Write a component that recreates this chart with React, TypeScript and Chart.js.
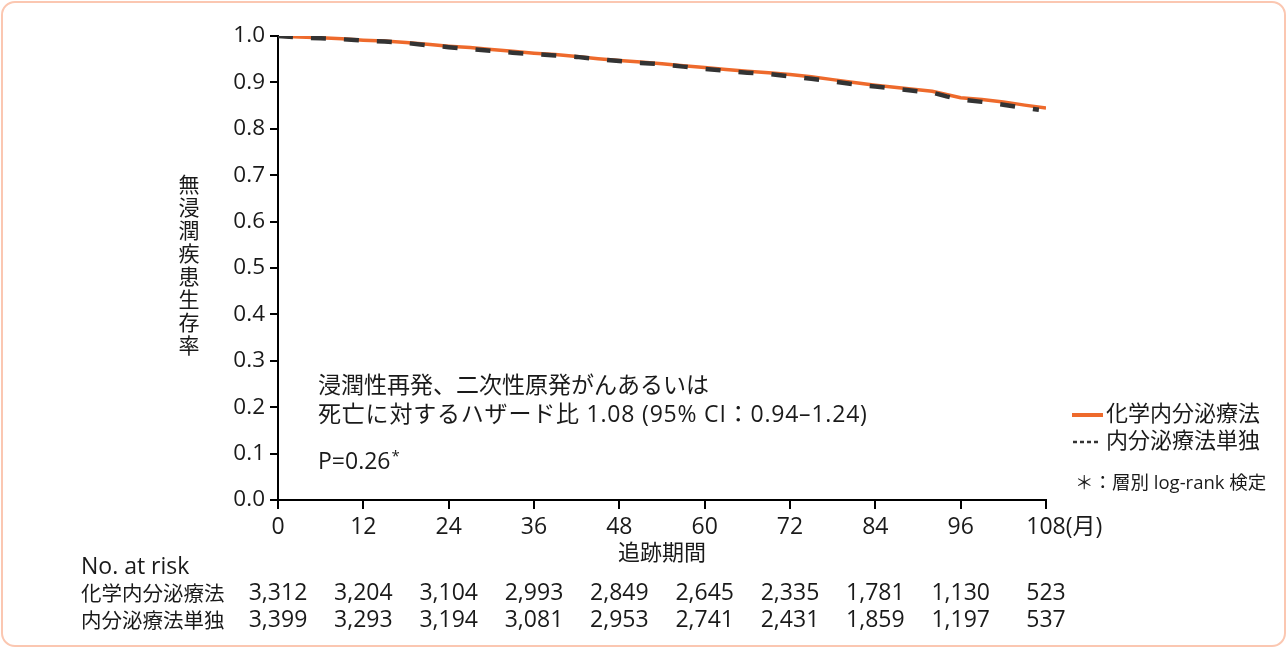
import React, { useEffect, useRef } from "react";
import { Chart, registerables } from "chart.js";

Chart.register(...registerables);

// ---- data ----
const monthsChemo = [0, 3, 6, 9, 12, 15, 18, 21, 24, 27, 30, 33, 36, 39, 42, 45, 48, 51, 54, 57, 60, 63, 66, 69, 72, 75, 78, 81, 84, 87, 90, 92, 94, 96, 99, 102, 105, 108];
const survivalChemo = [1.0, 0.998, 0.996, 0.994, 0.991, 0.989, 0.986, 0.982, 0.978, 0.975, 0.971, 0.967, 0.963, 0.960, 0.956, 0.951, 0.947, 0.944, 0.940, 0.936, 0.932, 0.928, 0.924, 0.921, 0.917, 0.912, 0.906, 0.900, 0.894, 0.889, 0.884, 0.881, 0.874, 0.867, 0.863, 0.858, 0.851, 0.845];
const monthsEndo = [0, 3, 6, 9, 12, 15, 18, 21, 24, 27, 30, 33, 36, 39, 42, 45, 48, 51, 54, 57, 60, 63, 66, 69, 72, 75, 78, 81, 84, 87, 90, 92, 94, 96, 99, 102, 104, 107];
const survivalEndo = [1.0, 0.997, 0.995, 0.993, 0.990, 0.988, 0.985, 0.980, 0.976, 0.972, 0.968, 0.964, 0.961, 0.958, 0.955, 0.950, 0.946, 0.942, 0.939, 0.934, 0.929, 0.925, 0.921, 0.918, 0.913, 0.908, 0.902, 0.896, 0.891, 0.886, 0.881, 0.878, 0.870, 0.863, 0.858, 0.852, 0.847, 0.841];
const seriesNames = ["化学内分泌療法", "内分泌療法単独"];
const xTicks = [0, 12, 24, 36, 48, 60, 72, 84, 96, 108];
const atRiskChemo = ["3,312", "3,204", "3,104", "2,993", "2,849", "2,645", "2,335", "1,781", "1,130", "523"];
const atRiskEndo = ["3,399", "3,293", "3,194", "3,081", "2,953", "2,741", "2,431", "1,859", "1,197", "537"];
const yTitle = "無浸潤疾患生存率";
const xTitle = "追跡期間";
const xUnit = "(月)";
const noteLine1 = "浸潤性再発、二次性原発がんあるいは";
const noteLine2 = "死亡に対するハザード比 1.08 (95% CI：0.94–1.24)";
const pText = "P=0.26";
const footnote = "＊：層別 log-rank 検定";
const atRiskTitle = "No. at risk";

const FONT = '"Open Sans", "Noto Sans CJK JP", sans-serif';
const CJK = '"Noto Sans CJK JP", sans-serif';
const TEXT = "#1a1a1a";
const ORANGE = "#ee6a2c";
const DARK = "#333333";

const overlay = {
  id: "overlay",
  afterDraw(chart: any) {
    const ctx = chart.ctx as CanvasRenderingContext2D;
    const xs = chart.scales.x;
    const area = chart.chartArea;
    ctx.save();
    ctx.fillStyle = TEXT;
    ctx.textBaseline = "middle";

    // y title, upright stacked characters
    ctx.font = `21px ${CJK}`;
    ctx.textAlign = "center";
    const chars = Array.from(yTitle);
    const step = 23;
    const cy = (area.top + area.bottom) / 2 - 3;
    const start = cy - ((chars.length - 1) * step) / 2;
    chars.forEach((c, i) => ctx.fillText(c, 189, start + i * step));

    // unit after 108
    const lastX = xs.getPixelForValue(108);
    ctx.font = `23px ${FONT}`;
    const w108 = ctx.measureText("108").width;
    ctx.textAlign = "left";
    ctx.fillText(xUnit, lastX + w108 / 2, 527);

    // x title
    ctx.textAlign = "center";
    ctx.font = `22px ${CJK}`;
    ctx.fillText(xTitle, (area.left + area.right) / 2, 552);

    // annotations
    ctx.textAlign = "left";
    ctx.font = `23px ${FONT}`;
    ctx.fillText(noteLine1, 318, 386);
    (ctx as any).letterSpacing = "0.8px";
    ctx.fillText(noteLine2, 318, 415);
    (ctx as any).letterSpacing = "0px";
    ctx.fillText(pText, 318, 462);
    const pw = ctx.measureText(pText).width;
    ctx.font = `15px ${FONT}`;
    ctx.fillText("*", 318 + pw + 1, 457);

    // legend
    ctx.font = `22px ${FONT}`;
    ctx.strokeStyle = ORANGE;
    ctx.lineWidth = 4;
    ctx.beginPath();
    ctx.moveTo(1072, 415);
    ctx.lineTo(1103, 415);
    ctx.stroke();
    ctx.fillText(seriesNames[0], 1106, 415);
    ctx.strokeStyle = DARK;
    ctx.lineWidth = 2.5;
    ctx.setLineDash([4, 3]);
    ctx.beginPath();
    ctx.moveTo(1073, 442);
    ctx.lineTo(1101, 442);
    ctx.stroke();
    ctx.setLineDash([]);
    ctx.fillText(seriesNames[1], 1106, 442);
    ctx.font = `18.5px ${FONT}`;
    ctx.fillText(footnote, 1075, 484);

    // at risk table
    ctx.font = `23px ${FONT}`;
    ctx.fillText(atRiskTitle, 81, 567);
    ctx.font = `20.5px ${CJK}`;
    ctx.fillText(seriesNames[0], 81, 593);
    ctx.fillText(seriesNames[1], 81, 620);
    ctx.textAlign = "center";
    ctx.font = `23px ${FONT}`;
    xTicks.forEach((t, i) => {
      const px = xs.getPixelForValue(t);
      ctx.fillText(atRiskChemo[i], px, 593);
      ctx.fillText(atRiskEndo[i], px, 620);
    });
    ctx.restore();
  },
};

export default function App() {
  const ref = useRef<HTMLCanvasElement | null>(null);
  useEffect(() => {
    if (!ref.current) return;
    const chart = new Chart(ref.current, {
      type: "line",
      data: {
        datasets: [
          {
            label: seriesNames[1],
            data: monthsEndo.map((m, i) => ({ x: m, y: survivalEndo[i] })),
            borderColor: DARK,
            borderWidth: 4.5,
            borderDash: [15, 18],
            pointRadius: 0,
            tension: 0,
            order: 0,
          },
          {
            label: seriesNames[0],
            data: monthsChemo.map((m, i) => ({ x: m, y: survivalChemo[i] })),
            borderColor: ORANGE,
            borderWidth: 3.5,
            pointRadius: 0,
            tension: 0,
            order: 1,
          },
        ],
      },
      options: {
        responsive: false,
        animation: false,
        layout: { padding: { left: 218, right: 241, top: 36, bottom: 108 } },
        plugins: { legend: { display: false }, tooltip: { enabled: false } },
        scales: {
          x: {
            type: "linear",
            min: 0,
            max: 108,
            afterFit: (s: any) => { s.height = 40; },
            afterBuildTicks: (s: any) => { s.ticks = xTicks.map((v) => ({ value: v })); },
            ticks: {
              callback: (v: any) => String(v),
              color: TEXT,
              font: { family: FONT, size: 23 },
              padding: 5,
              maxRotation: 0,
              autoSkip: false,
            },
            grid: { drawOnChartArea: false, tickLength: 9, color: "#000", lineWidth: 2 },
            border: { color: "#000", width: 2 },
          },
          y: {
            min: 0,
            max: 1,
            afterFit: (s: any) => { s.width = 60; },
            ticks: {
              stepSize: 0.1,
              callback: (v: any) => Number(v).toFixed(1),
              color: TEXT,
              font: { family: FONT, size: 22.5 },
              padding: 5,
            },
            grid: { drawOnChartArea: false, tickLength: 8, color: "#000", lineWidth: 2 },
            border: { color: "#000", width: 2 },
          },
        },
      },
      plugins: [overlay],
    });
    return () => chart.destroy();
  }, []);
  return (
    <div style={{ position: "fixed", left: 0, top: 0, width: 1287, height: 648, background: "#fff" }}>
      <canvas ref={ref} width={1287} height={648} style={{ position: "absolute", left: 0, top: 0 }} />
      <div
        style={{
          position: "absolute",
          left: 1,
          top: 1,
          width: 1285,
          height: 646,
          boxSizing: "border-box",
          border: "2px solid #fbc7b1",
          borderRadius: 14,
          pointerEvents: "none",
        }}
      />
    </div>
  );
}
